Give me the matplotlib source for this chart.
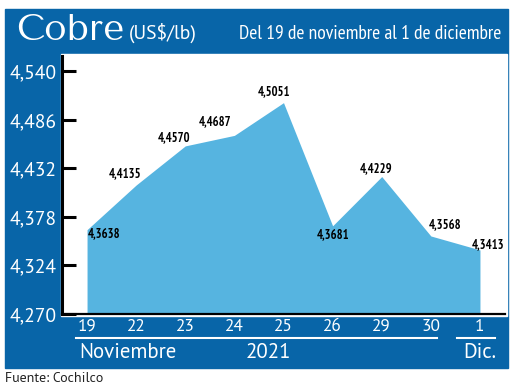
import numpy as np
import matplotlib.pyplot as plt
from matplotlib.patches import Rectangle

# datos
dias = ["19", "22", "23", "24", "25", "26", "29", "30", "1"]
precios = [4.3638, 4.4135, 4.4570, 4.4687, 4.5051, 4.3681, 4.4229, 4.3568, 4.3413]
etiquetas = ["4,3638", "4,4135", "4,4570", "4,4687", "4,5051", "4,3681", "4,4229", "4,3568", "4,3413"]
yticks = [4.270, 4.324, 4.378, 4.432, 4.486, 4.540]
ytick_labels = ["4,270", "4,324", "4,378", "4,432", "4,486", "4,540"]

# desplazamiento de cada etiqueta (puntos)
offsets = [(12, -3), (-8, 8), (-8, 6), (-14, 10), (-7, 8), (0, -6), (-4, 6), (10, 8), (6, 4)]

AZUL = "#0865a8"
CELESTE = "#56b4e0"
W, H = 520, 388
SANS = ["PT Sans", "DejaVu Sans"]
NARROW = ["PT Sans Narrow", "DejaVu Sans"]

fig = plt.figure(figsize=(5.2, 3.88), dpi=100)

def px(x, y, w, h):
    # rectangulo en pixeles (origen arriba izquierda) -> coords figura
    return (x / W, 1 - (y + h) / H, w / W, h / H)

# marco azul
fig.patches.append(Rectangle(px(5, 9, 503, 359)[:2], 503 / W, 359 / H,
                             transform=fig.transFigure, color=AZUL, zorder=-2))
# zona blanca del grafico
fig.patches.append(Rectangle(px(61, 54, 446, 262)[:2], 446 / W, 262 / H,
                             transform=fig.transFigure, color="white", zorder=-1))

ax = fig.add_axes(px(62, 56, 443, 258))
ax.set_zorder(2)
ax.set_facecolor("none")
x = np.arange(len(dias))
ax.fill_between(x, precios, 4.270, color=CELESTE, lw=0)
ax.set_xlim(-0.51, 8.51)
ax.set_ylim(4.270, 4.557)

ax.set_yticks(yticks)
ax.set_yticklabels(ytick_labels, color="white", fontsize=14, family=SANS)
ax.tick_params(axis="y", direction="in", length=10, width=2.2, pad=4)
ax.set_xticks([])
for s in ["top", "right"]:
    ax.spines[s].set_visible(False)
ax.spines["left"].set_linewidth(2.2)
ax.spines["bottom"].set_linewidth(1.6)

for i, (v, t) in enumerate(zip(precios, etiquetas)):
    ax.annotate(t, (x[i], v), xytext=offsets[i], textcoords="offset points",
                ha="center", va="center", fontsize=9, fontweight="bold",
                family=NARROW, color="black")

# eje x en la banda inferior
for i, d in enumerate(dias):
    xf = ax.transData.transform((x[i], 4.27))[0] / W
    fig.text(xf, 1 - 327 / H, d, color="white", fontsize=12.5, family=SANS,
             ha="center", va="center")
fig.add_artist(plt.Line2D([76 / W, 437 / W], [1 - 338 / H] * 2, color="white", lw=1.5))
fig.add_artist(plt.Line2D([457 / W, 495 / W], [1 - 338 / H] * 2, color="white", lw=1.5))
fig.text(79 / W, 1 - 353 / H, "Noviembre", color="white", fontsize=15,
         family=SANS, va="center")
fig.text(268 / W, 1 - 353 / H, "2021", color="white", fontsize=15,
         family=SANS, va="center", ha="center")
fig.text(496 / W, 1 - 353 / H, "Dic.", color="white", fontsize=15,
         family=SANS, va="center", ha="right")

# titulo
fig.text(16 / W, 1 - 31 / H, "Cobre", color="white", fontsize=26.5,
         family=["Tenor Sans", "DejaVu Sans"], va="center")
fig.text(129 / W, 1 - 33 / H, "(US$/lb)", color="white", fontsize=14,
         family=SANS, va="center")
fig.text(501 / W, 1 - 34 / H, "Del 19 de noviembre al 1 de diciembre", color="white",
         fontsize=14, family=NARROW, va="center", ha="right")

fig.text(5 / W, 1 - 378 / H, "Fuente: Cochilco", color="#222222", fontsize=10,
         family=SANS, va="center")

fig.savefig("out.png", dpi=100)
